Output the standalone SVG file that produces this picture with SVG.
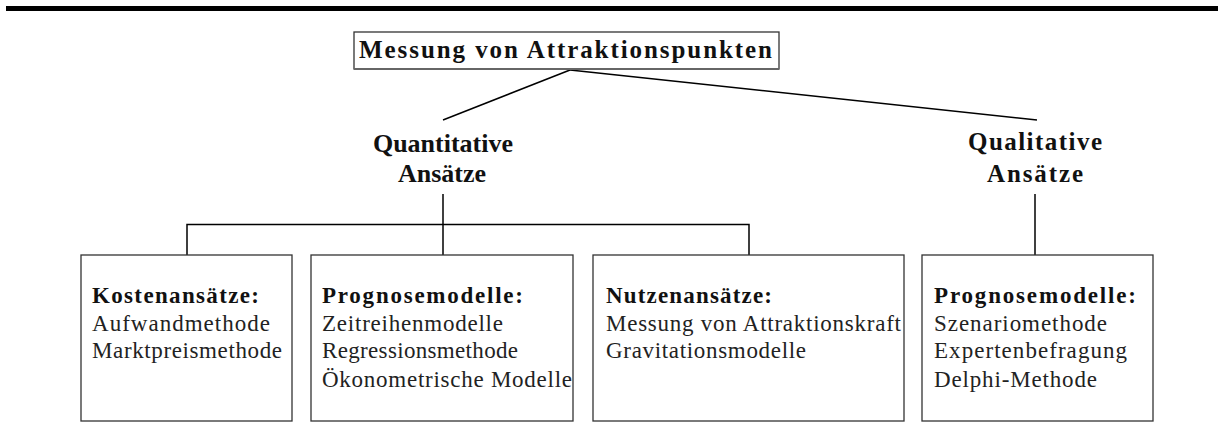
<svg xmlns="http://www.w3.org/2000/svg" width="1220" height="423" viewBox="0 0 1220 423">
<style>
.box{fill:#fff;stroke:#333;stroke-width:1.3}
.ln{stroke:#000;stroke-width:1.5;fill:none}
.t{font-family:"Liberation Serif",serif;font-size:23px;fill:#222}
.b{font-weight:bold;fill:#111}
.h{font-family:"Liberation Serif",serif;font-weight:bold;fill:#111}
</style>
<rect x="6" y="6" width="1212" height="5" fill="#000"/>
<g id="connectors">
<line class="ln" x1="570" y1="70" x2="443" y2="120"/>
<line class="ln" x1="570" y1="70" x2="1037" y2="120"/>
<line class="ln" x1="443" y1="194" x2="443" y2="255"/>
<polyline class="ln" points="187,255 187,224.5 749,224.5 749,255"/>
<line class="ln" x1="1035" y1="194" x2="1035" y2="255"/>
</g>
<g id="root">
<rect class="box" x="354" y="32" width="425" height="37" stroke="#222"/>
<line x1="354" y1="69" x2="779" y2="69" stroke="#666" stroke-width="2"/>
<text class="h" x="359" y="58" font-size="25" textLength="413" lengthAdjust="spacing">Messung von Attraktionspunkten</text>
</g>
<g id="quantitative">
<text class="h" font-size="26" text-anchor="middle" x="443" y="152">Quantitative</text>
<text class="h" font-size="26" text-anchor="middle" x="442" y="182">Ansätze</text>
</g>
<g id="qualitative">
<text class="h" font-size="25" x="968" y="150" textLength="134" lengthAdjust="spacing">Qualitative</text>
<text class="h" font-size="25" x="987" y="182" textLength="96" lengthAdjust="spacing">Ansätze</text>
</g>
<g id="kosten">
<rect class="box" x="81" y="255" width="211" height="166"/>
<text class="t b" x="92" y="303" textLength="167" lengthAdjust="spacing">Kostenansätze:</text>
<text class="t" x="92" y="331" textLength="178" lengthAdjust="spacing">Aufwandmethode</text>
<text class="t" x="92" y="358" textLength="190" lengthAdjust="spacing">Marktpreismethode</text>
</g>
<g id="prognose1">
<rect class="box" x="311" y="255" width="262" height="166"/>
<text class="t b" x="322" y="303" textLength="201" lengthAdjust="spacing">Prognosemodelle:</text>
<text class="t" x="322" y="331" textLength="181" lengthAdjust="spacing">Zeitreihenmodelle</text>
<text class="t" x="322" y="358" textLength="196" lengthAdjust="spacing">Regressionsmethode</text>
<text class="t" x="322" y="387" textLength="250" lengthAdjust="spacing">Ökonometrische Modelle</text>
</g>
<g id="nutzen">
<rect class="box" x="593" y="255" width="311" height="166"/>
<text class="t b" x="606" y="303" textLength="166" lengthAdjust="spacing">Nutzenansätze:</text>
<text class="t" x="606" y="331" textLength="295" lengthAdjust="spacing">Messung von Attraktionskraft</text>
<text class="t" x="606" y="358" textLength="200" lengthAdjust="spacing">Gravitationsmodelle</text>
</g>
<g id="prognose2">
<rect class="box" x="922" y="255" width="231" height="166"/>
<text class="t b" x="934" y="303" textLength="202" lengthAdjust="spacing">Prognosemodelle:</text>
<text class="t" x="934" y="331" textLength="173" lengthAdjust="spacing">Szenariomethode</text>
<text class="t" x="934" y="358" textLength="193" lengthAdjust="spacing">Expertenbefragung</text>
<text class="t" x="934" y="387" textLength="163" lengthAdjust="spacing">Delphi-Methode</text>
</g>
</svg>
